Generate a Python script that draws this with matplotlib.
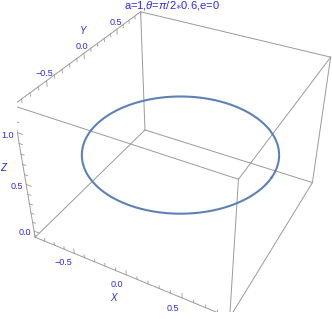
import numpy as np
import matplotlib
matplotlib.use('Agg')
import matplotlib.pyplot as plt

plt.rcParams['font.family'] = ['Liberation Sans', 'DejaVu Sans']
plt.rcParams['mathtext.fontset'] = 'custom'
plt.rcParams['mathtext.rm'] = 'Liberation Sans'
plt.rcParams['mathtext.it'] = 'Liberation Sans:italic'

# parameters from the title
a = 1.0
theta = np.pi / 2 * 0.6
e = 0.0

# plot range of the box
x_range = (-0.9, 0.9)
y_range = (-0.9, 0.9)
z_range = (-0.07, 1.24)

x_ticks = [-0.5, 0.0, 0.5]
y_ticks = [-0.5, 0.0, 0.5]
z_ticks = [0.0, 0.5, 1.0]

title = r'a=1,$\theta$=$\pi$/2$\ast$0.6,e=0'

blue = '#2b2be3'
edge = '#9a9a9a'
curve = '#5e81b5'

fig = plt.figure(figsize=(3.32, 3.19), dpi=100)
ax = fig.add_axes([0.0306, 0.0205, 1, 1], projection='3d')
ax.set_proj_type('persp', focal_length=0.4)
ax.view_init(elev=36.2, azim=-61.6)
ax.set_xlim(x_range)
ax.set_ylim(y_range)
ax.set_zlim(z_range)
ax.set_box_aspect((np.ptp(x_range), np.ptp(y_range), np.ptp(z_range)), zoom=1.055)
ax.set_xticks([])
ax.set_yticks([])
ax.set_zticks([])
ax.set_axis_off()

x0, x1 = x_range
y0, y1 = y_range
z0, z1 = z_range

# all 12 box edges
for y in (y0, y1):
    for z in (z0, z1):
        ax.plot([x0, x1], [y, y], [z, z], color=edge, lw=0.7)
for x in (x0, x1):
    for z in (z0, z1):
        ax.plot([x, x], [y0, y1], [z, z], color=edge, lw=0.7)
for x in (x0, x1):
    for y in (y0, y1):
        ax.plot([x, x], [y, y], [z0, z1], color=edge, lw=0.7)

# the orbit
t = np.linspace(0, 2 * np.pi, 400)
ox = a * np.sin(theta) * np.cos(t)
oy = a * np.sin(theta) * np.sin(t)
oz = a * np.cos(theta) * np.ones_like(t)
ax.plot(ox, oy, oz, color=curve, lw=1.5)


def minor_vals(lo, hi):
    v = np.arange(np.ceil(lo * 10), np.floor(hi * 10) + 1) / 10
    return v


def tick_len(v):
    return 0.05 if abs(v * 2 - round(v * 2)) < 1e-6 else 0.03


def fmt(v):
    return f'{v:.1f}'.replace('-', '\u2212')


fs = 6.5

# x axis: front bottom edge, ticks go up
for v in minor_vals(x0, x1):
    ax.plot([v, v], [y0, y0], [z0, z0 + tick_len(v)], color=edge, lw=0.6)
for v in x_ticks:
    ax.text(v, y0 - 0.14, z0 + 0.02, fmt(v), color=blue, fontsize=fs,
            ha='center', va='center')
ax.text(0.04, y0 - 0.25, z0, 'X', color=blue, fontsize=7, style='italic',
        ha='center', va='center')

# y axis: top left edge, ticks go down
for v in minor_vals(y0, y1):
    ax.plot([x0, x0], [v, v], [z1, z1 - tick_len(v)], color=edge, lw=0.6)
for v in y_ticks:
    ax.text(x0 - 0.01, v, z1 + 0.06, fmt(v), color=blue, fontsize=fs,
            ha='center', va='center')
ax.text(x0 + 0.01, 0, z1 + 0.2, 'Y', color=blue, fontsize=7, style='italic',
        ha='center', va='center')

# z axis: front left vertical edge, ticks go right
for v in minor_vals(z0, z1):
    ax.plot([x0, x0 + tick_len(v)], [y0, y0], [v, v], color=edge, lw=0.6)
for v in z_ticks:
    ax.text(x0 - 0.11, y0, v - 0.066, fmt(v), color=blue, fontsize=fs,
            ha='center', va='center')
ax.text(x0 - 0.22, y0, 0.58, 'Z', color=blue, fontsize=7, style='italic',
        ha='center', va='center')

fig.text(0.518, 0.982, title, color=blue, fontsize=8, ha='center', va='center')

fig.savefig('out.png', dpi=100)
